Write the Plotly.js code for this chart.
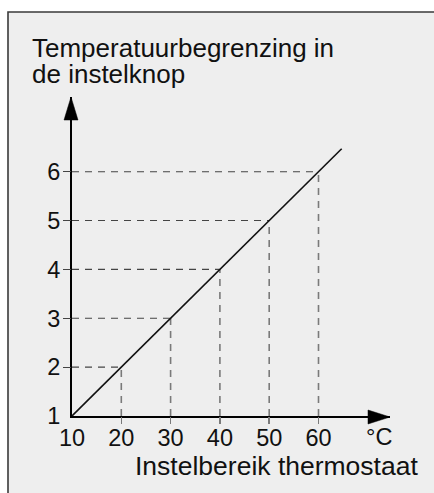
<!DOCTYPE html>
<html><head><meta charset="utf-8">
<script src="https://cdn.plot.ly/plotly-3.0.1.min.js"></script>
<style>html,body{margin:0;padding:0;background:#fff;}#chart{width:434px;height:493px;}</style>
</head><body><div id="chart"></div>
<script>
// ---- data ----
const temps = [10, 20, 30, 40, 50, 60];          // Instelbereik thermostaat (°C)
const knobs = [1, 2, 3, 4, 5, 6];                // Temperatuurbegrenzing in de instelknop
const xTickLabels = ['10', '20', '30', '40', '50', '60'];
const yTickLabels = ['1', '2', '3', '4', '5', '6'];
const lineEndX = [64.7];                         // line continues past the 60 / 6 point
const lineEndY = [6.47];
const titleLines = ['Temperatuurbegrenzing in', 'de instelknop'];
const xTitle = 'Instelbereik thermostaat';
const xUnit = '°C';

// ---- layout geometry ----
const W = 434, H = 493;
const M = {l: 72, r: 44, t: 97, b: 77};
const pw = W - M.l - M.r, ph = H - M.t - M.b;
const px = p => (p - M.l) / pw;
const py = p => (H - M.b - p) / ph;
const FONT = '"Liberation Sans", Arial, Helvetica, sans-serif';
const xRange = [10, 10 + pw / 4.93];
const yRange = [1, 1 + ph / 48.86];

// dashed guide lines built from the data
const hx = [], hy = [], vx = [], vy = [];
temps.forEach((t, i) => {
  if (i === 0) return;
  hx.push(temps[0], t, null); hy.push(knobs[i], knobs[i], null);
  vx.push(t, t, null); vy.push(knobs[0], knobs[i], null);
});

const traces = [
  {x: vx, y: vy, mode: 'lines', line: {color: '#7a7a7a', width: 1.6, dash: '7px,6px'}, hoverinfo: 'skip', showlegend: false},
  {x: hx, y: hy, mode: 'lines', line: {color: '#444', width: 1.1, dash: '7px,6px'}, hoverinfo: 'skip', showlegend: false},
  {x: temps.concat(lineEndX), y: knobs.concat(lineEndY), mode: 'lines', line: {color: '#111', width: 1.6}, hoverinfo: 'skip', showlegend: false},
  {x: [temps[0]], y: [knobs[0]], xaxis: 'x2', yaxis: 'y2', mode: 'markers', marker: {opacity: 0}, hoverinfo: 'skip', showlegend: false}
];

const layout = {
  width: W, height: H,
  margin: M,
  paper_bgcolor: '#ffffff',
  plot_bgcolor: 'rgba(0,0,0,0)',
  font: {family: FONT, color: '#111'},
  showlegend: false,
  xaxis: {
    range: xRange, tickvals: temps, ticktext: xTickLabels, ticks: '',
    showline: true, linewidth: 2, linecolor: '#000', showgrid: false, zeroline: false,
    tickfont: {size: 23.5, color: '#111', family: FONT}, ticklabelstandoff: 0, fixedrange: true
  },
  yaxis: {
    range: yRange, tickvals: knobs, ticktext: yTickLabels, ticks: '',
    showline: true, linewidth: 2, linecolor: '#000', showgrid: false, zeroline: false,
    tickfont: {size: 23.5, color: '#111', family: FONT}, ticklabelstandoff: 5, fixedrange: true
  },
  xaxis2: {
    overlaying: 'x', anchor: 'y', side: 'bottom', range: xRange,
    tickvals: temps.slice(1), ticks: 'outside', ticklen: 7, tickwidth: 1.6, tickcolor: '#7a7a7a',
    showticklabels: false, showline: false, showgrid: false, zeroline: false, fixedrange: true
  },
  yaxis2: {
    overlaying: 'y', anchor: 'x', side: 'left', range: yRange,
    tickvals: knobs.slice(1), ticks: 'outside', ticklen: 8, tickwidth: 1.1, tickcolor: '#444',
    showticklabels: false, showline: false, showgrid: false, zeroline: false, fixedrange: true
  },
  shapes: [
    // grey panel with dark border at top and left
    {type: 'rect', xref: 'paper', yref: 'paper', xsizemode: 'pixel', ysizemode: 'pixel',
     xanchor: 0, yanchor: 0, x0: 8 - M.l, x1: 600, y0: -600, y1: (H - M.b) - 12,
     fillcolor: '#eeeeee', line: {color: '#3a3a3a', width: 1.6}, layer: 'below'},
    // arrow head on the y axis
    {type: 'path', xref: 'paper', yref: 'paper', xsizemode: 'pixel', ysizemode: 'pixel',
     xanchor: 0, yanchor: 1, path: 'M-1,0 L-8,-23 L6,-23 Z',
     fillcolor: '#000', line: {color: '#000', width: 0.5}, layer: 'above'},
    // arrow head on the x axis
    {type: 'path', xref: 'paper', yref: 'paper', xsizemode: 'pixel', ysizemode: 'pixel',
     xanchor: 1, yanchor: 0, path: 'M0,-1 L-22,6 L-22,-8 Z',
     fillcolor: '#000', line: {color: '#000', width: 0.5}, layer: 'above'}
  ],
  annotations: [
    {text: titleLines[0], xref: 'paper', yref: 'paper', x: px(30.5), y: py(48.3), xanchor: 'left', yanchor: 'middle',
     borderpad: 0, showarrow: false, font: {size: 26, color: '#111', family: FONT}},
    {text: titleLines[1], xref: 'paper', yref: 'paper', x: px(30.5), y: py(74.3), xanchor: 'left', yanchor: 'middle',
     borderpad: 0, showarrow: false, font: {size: 26, color: '#111', family: FONT}},
    {text: xTitle, xref: 'paper', yref: 'paper', x: px(418.5), y: py(466), xanchor: 'right', yanchor: 'middle',
     borderpad: 0, showarrow: false, font: {size: 26.5, color: '#111', family: FONT}},
    {text: xUnit, xref: 'paper', yref: 'paper', x: px(393), y: py(436.7), xanchor: 'right', yanchor: 'middle',
     borderpad: 0, showarrow: false, font: {size: 23.5, color: '#111', family: FONT}}
  ]
};

Plotly.newPlot('chart', traces, layout, {displayModeBar: false, staticPlot: true});
</script>
</body></html>
